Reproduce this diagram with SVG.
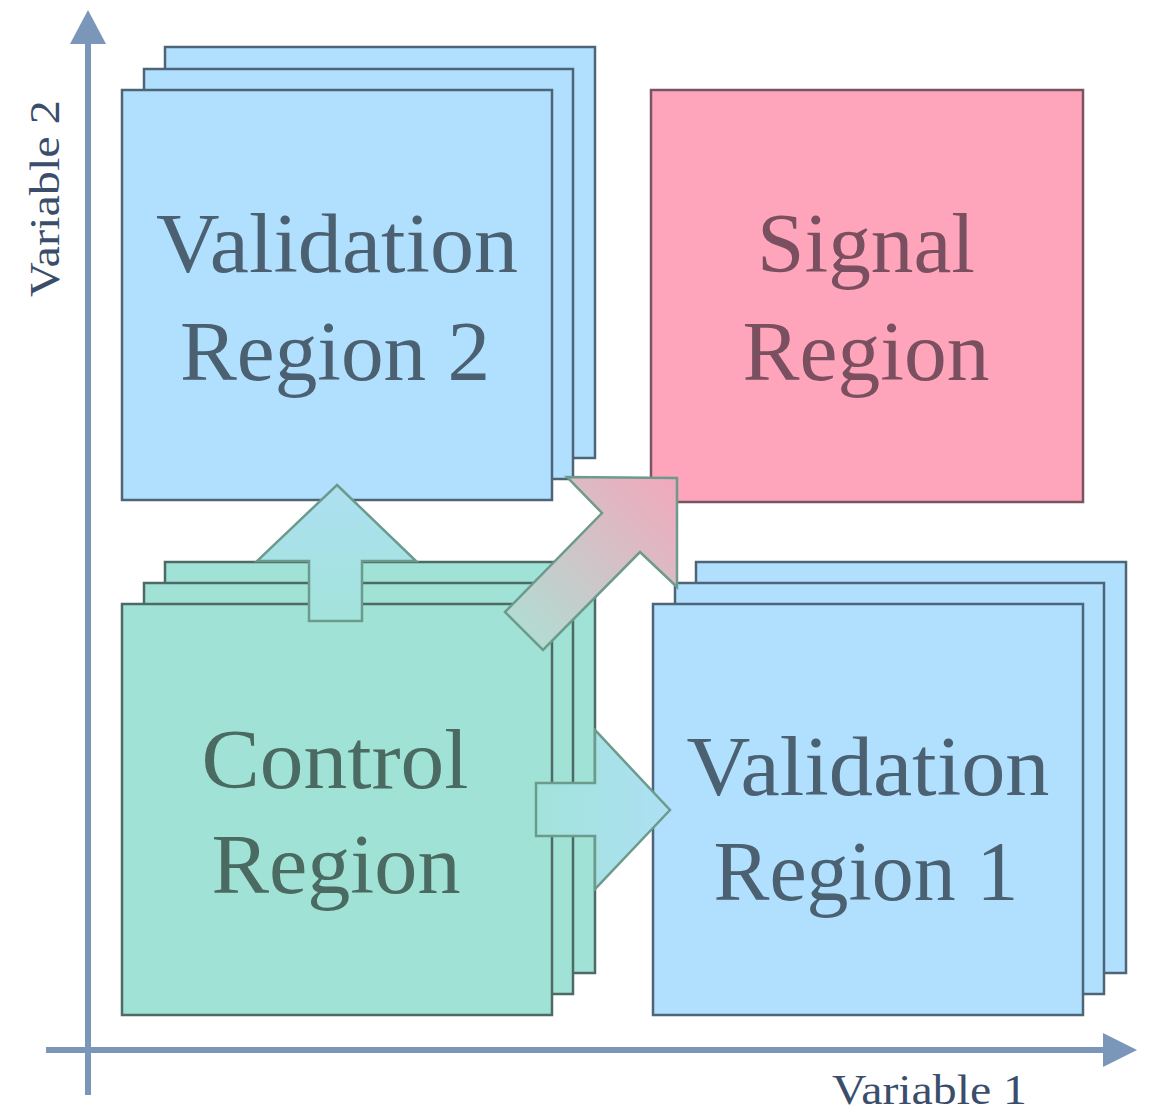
<svg xmlns="http://www.w3.org/2000/svg" width="1149" height="1115" viewBox="0 0 1149 1115">
  <style>
    .blue { fill: #b0e0fe; stroke: #4e6477; stroke-width: 2.5; }
    .green { fill: #a0e3d6; stroke: #4e6a64; stroke-width: 2.5; }
    .pink { fill: #ffa5bb; stroke: #7a5462; stroke-width: 2.5; }
    .label { font-family: "Liberation Serif", "DejaVu Serif", serif; font-size: 84px; text-anchor: middle; }
    .lb { fill: #4b6070; }
    .lg { fill: #4b6a62; }
    .lp { fill: #7a5060; }
    .axis-label { font-family: "Liberation Serif", "DejaVu Serif", serif; font-size: 43px; fill: #3a4e6c; }
    .flow { stroke: #6c9a8c; stroke-width: 2.5; stroke-linejoin: miter; }
  </style>
  <defs>
    <linearGradient id="gUp" x1="0" y1="0" x2="0" y2="1">
      <stop offset="0" stop-color="#ade0f2"/>
      <stop offset="1" stop-color="#a2e3da"/>
    </linearGradient>
    <linearGradient id="gRight" x1="0" y1="0" x2="1" y2="0">
      <stop offset="0" stop-color="#a2e3da"/>
      <stop offset="1" stop-color="#ade0f4"/>
    </linearGradient>
    <linearGradient id="gDiag" gradientUnits="userSpaceOnUse" x1="520" y1="630" x2="677" y2="478">
      <stop offset="0" stop-color="#b2dcd2"/>
      <stop offset="1" stop-color="#f2a8bc"/>
    </linearGradient>
  </defs>

  <!-- axes -->
  <g id="axes" fill="#7a96b9">
    <rect x="85" y="40" width="6" height="1055"/>
    <polygon points="88,10 70,44 106,44"/>
    <rect x="46" y="1047" width="1060" height="6"/>
    <polygon points="1137,1050 1103,1033 1103,1067"/>
    <text class="axis-label" x="832" y="1104" font-size="40" textLength="195" lengthAdjust="spacingAndGlyphs">Variable 1</text>
    <text class="axis-label" transform="translate(59,297) rotate(-90)" textLength="197" lengthAdjust="spacingAndGlyphs">Variable 2</text>
  </g>

  <!-- Validation Region 2 -->
  <g id="validation-region-2">
    <rect class="blue" x="165" y="47" width="430" height="411"/>
    <rect class="blue" x="144" y="69" width="429" height="410"/>
    <rect class="blue" x="122" y="90" width="430" height="410"/>
    <text class="label lb" x="337" y="272" textLength="362" lengthAdjust="spacingAndGlyphs">Validation</text>
    <text class="label lb" x="335" y="380" textLength="310" lengthAdjust="spacingAndGlyphs">Region 2</text>
  </g>

  <!-- Signal Region -->
  <g id="signal-region">
    <rect class="pink" x="651" y="90" width="432" height="412"/>
    <text class="label lp" x="866" y="272" textLength="218" lengthAdjust="spacingAndGlyphs">Signal</text>
    <text class="label lp" x="866" y="380" textLength="247" lengthAdjust="spacingAndGlyphs">Region</text>
  </g>

  <!-- Control Region -->
  <g id="control-region">
    <rect class="green" x="165" y="562" width="430" height="411"/>
    <rect class="green" x="144" y="583" width="429" height="411"/>
    <rect class="green" x="122" y="604" width="430" height="411"/>
    <text class="label lg" x="335" y="788" textLength="267" lengthAdjust="spacingAndGlyphs">Control</text>
    <text class="label lg" x="336" y="893" textLength="249" lengthAdjust="spacingAndGlyphs">Region</text>
  </g>

  <!-- Validation Region 1 -->
  <g id="validation-region-1">
    <rect class="blue" x="696" y="562" width="430" height="411"/>
    <rect class="blue" x="675" y="583" width="429" height="411"/>
    <rect class="blue" x="653" y="604" width="430" height="411"/>
    <text class="label lb" x="868" y="795" textLength="363" lengthAdjust="spacingAndGlyphs">Validation</text>
    <text class="label lb" x="866" y="900" textLength="305" lengthAdjust="spacingAndGlyphs">Region 1</text>
  </g>

  <!-- block arrows between regions -->
  <g id="connectors">
    <polygon class="flow" fill="url(#gUp)" points="337,485 416,561 362,561 362,621 309,621 309,561 257,561"/>
    <polygon class="flow" fill="url(#gRight)" points="670,810 595,889 595,836 536,836 536,783 595,783 595,730"/>
    <polygon class="flow" fill="url(#gDiag)" points="677,478 677,587 640,552 543,650 505,612 602,513 567,477"/>
  </g>
</svg>
